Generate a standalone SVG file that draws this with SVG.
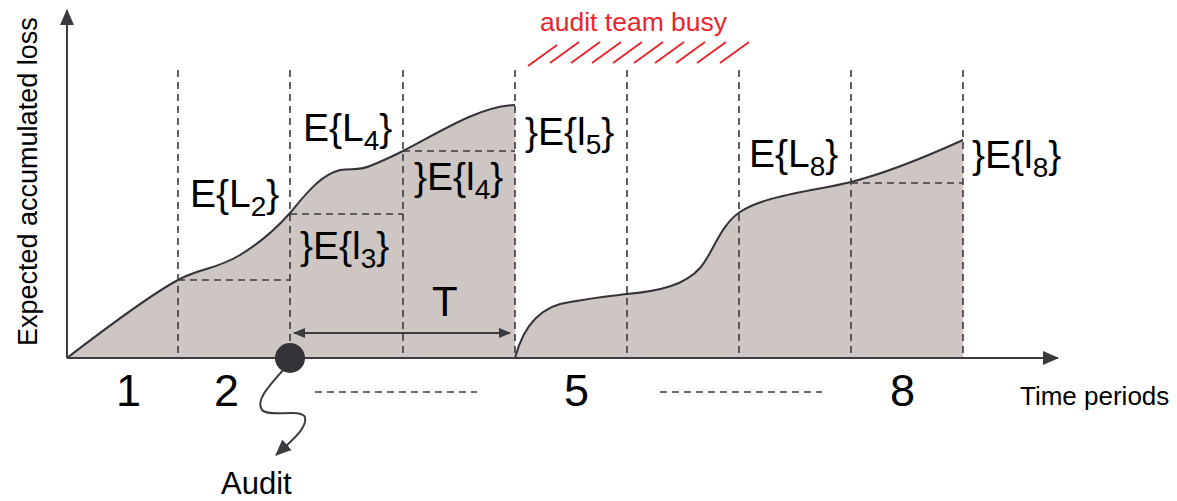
<svg xmlns="http://www.w3.org/2000/svg" width="1177" height="501" viewBox="0 0 1177 501">
<style>
.t{font-family:"Liberation Sans",Arial,sans-serif;fill:#000}
.lab{font-size:39px}
.sub{font-size:28px}
.num{font-size:45px}
.dash{stroke:#3a3a3f;stroke-width:1.6;stroke-dasharray:7,5;fill:none}
.ax{stroke:#3a3a3f;stroke-width:2;fill:none}
.curve{stroke:#333338;stroke-width:2;fill:none}
.fill{fill:#cdc6c3;stroke:none}
.red{stroke:#e8262b;stroke-width:2;fill:none}
</style>
<defs>
<marker id="ah" markerWidth="12" markerHeight="10" refX="11" refY="5" orient="auto" markerUnits="userSpaceOnUse">
<path d="M0,0 L12,5 L0,10 Z" fill="#3a3a3f"/>
</marker>
<marker id="ahs" markerWidth="12" markerHeight="10" refX="1" refY="5" orient="auto" markerUnits="userSpaceOnUse">
<path d="M12,0 L0,5 L12,10 Z" fill="#3a3a3f"/>
</marker>
<marker id="ahb" markerWidth="16" markerHeight="14" refX="15" refY="7" orient="auto" markerUnits="userSpaceOnUse">
<path d="M0,0 L16,7 L0,14 Z" fill="#3a3a3f"/>
</marker>
<marker id="axh" markerWidth="16" markerHeight="14" refX="15" refY="7" orient="auto" markerUnits="userSpaceOnUse">
<path d="M0,0 L16,7 L0,14 Z" fill="#3a3a3f"/>
</marker>
</defs>
<rect width="1177" height="501" fill="#fff"/>
<g id="area1">
<path class="fill" d="M67,358 C110,325 150,295 178,280 C200,268 215,270 240,255 C260,243 275,230 290,213 C305,195 320,175 340,170 C352,168 358,171 370,166 C385,160 395,155 403,151 C440,132 480,106 515,105 L515,358 Z"/>
<path class="curve" d="M67,358 C110,325 150,295 178,280 C200,268 215,270 240,255 C260,243 275,230 290,213 C305,195 320,175 340,170 C352,168 358,171 370,166 C385,160 395,155 403,151 C440,132 480,106 515,105"/>
</g>
<g id="area2">
<path class="fill" d="M515,358 C525,320 545,305 570,302 C590,298 610,296 627,294 C660,291 685,285 700,268 C712,255 720,225 740,212 C765,195 820,190 851,182 C890,172 930,155 963,140 L963,358 Z"/>
<path class="curve" d="M515,358 C525,320 545,305 570,302 C590,298 610,296 627,294 C660,291 685,285 700,268 C712,255 720,225 740,212 C765,195 820,190 851,182 C890,172 930,155 963,140"/>
</g>
<g id="grid">
<path class="dash" d="M178,70V358 M290,70V358 M403,70V358 M515,70V358 M627,70V358 M739,70V358 M851,70V358 M963,70V358"/>
<path class="dash" d="M178,280H290 M290,214H403 M403,151H515 M851,183H963"/>
<path class="dash" d="M315,392H477 M660,392H822"/>
</g>
<g id="axes">
<path class="ax" d="M67,358V10" marker-end="url(#axh)"/>
<path class="ax" d="M67,358H1058" marker-end="url(#axh)"/>
<text class="t" font-size="27" transform="translate(37,346) rotate(-90)">Expected accumulated loss</text>
<text class="t" font-size="26" x="1020" y="405">Time periods</text>
</g>
<g id="busy">
<text x="540" y="31" font-family="Liberation Sans,Arial,sans-serif" font-size="26.5" fill="#e8262b">audit team busy</text>
<path class="red" d="M528,66l29,-21 M550,63l29,-21 M571,63l29,-21 M592,63l29,-21 M613,63l29,-21 M634,63l29,-21 M655,63l29,-21 M676,63l29,-21 M697,63l29,-21 M720,63l29,-21"/>
</g>
<g id="labels">
<text class="t lab" x="190" y="207">E{L<tspan class="sub" dy="9">2</tspan><tspan dy="-9">}</tspan></text>
<text class="t lab" x="303" y="141">E{L<tspan class="sub" dy="9">4</tspan><tspan dy="-9">}</tspan></text>
<text class="t lab" x="300" y="259">}E{l<tspan class="sub" dy="9">3</tspan><tspan dy="-9">}</tspan></text>
<text class="t lab" x="414" y="190">}E{l<tspan class="sub" dy="9">4</tspan><tspan dy="-9">}</tspan></text>
<text class="t lab" x="525" y="145">}E{l<tspan class="sub" dy="9">5</tspan><tspan dy="-9">}</tspan></text>
<text class="t lab" x="749" y="167">E{L<tspan class="sub" dy="9">8</tspan><tspan dy="-9">}</tspan></text>
<text class="t lab" x="972" y="168">}E{l<tspan class="sub" dy="9">8</tspan><tspan dy="-9">}</tspan></text>
</g>
<g id="period">
<text class="t" font-size="42" x="432" y="316">T</text>
<path class="ax" d="M294,333H510" marker-start="url(#ahs)" marker-end="url(#ah)"/>
</g>
<g id="numbers">
<text class="t num" x="116" y="406">1</text>
<text class="t num" x="214" y="406">2</text>
<text class="t num" x="564" y="406">5</text>
<text class="t num" x="890" y="406">8</text>
</g>
<g id="audit">
<circle cx="290" cy="358" r="15" fill="#333338"/>
<path class="ax" d="M284,369 C270,385 255,400 262,410 C270,418 300,408 305,417 C308,428 290,442 276,455" marker-end="url(#ahb)"/>
<text class="t" font-size="31" x="221" y="494">Audit</text>
</g>
</svg>
